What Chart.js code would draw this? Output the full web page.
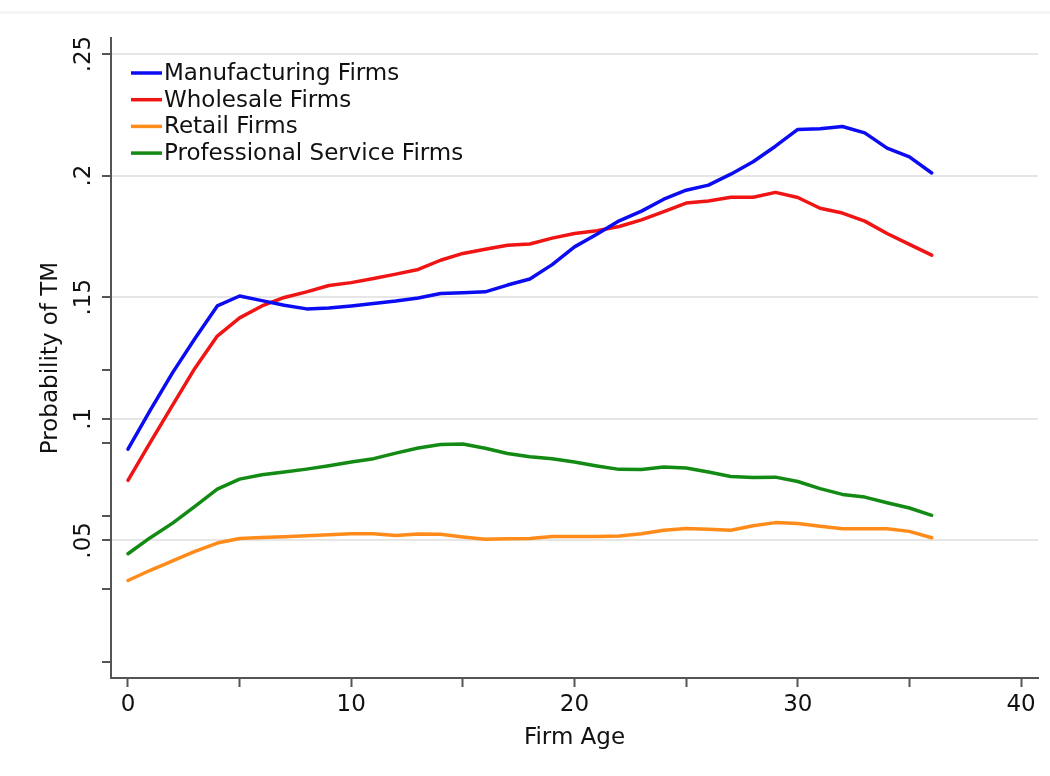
<!DOCTYPE html>
<html>
<head>
<meta charset="utf-8">
<title>Probability of TM by Firm Age</title>
<script src="https://cdn.jsdelivr.net/npm/chart.js@4.4.1/dist/chart.umd.min.js"></script>
<style>
  body { margin: 0; background: #fff; }
  #wrap { position: relative; width: 1050px; height: 776px; }
  #topline { position: absolute; left: 0; top: 11px; width: 1050px; height: 3px; background: #f5f5f5; }
  canvas { position: absolute; left: 0; top: 0; }
</style>
</head>
<body>
<div id="wrap">
  <div id="topline"></div>
  <canvas id="myChart" width="1050" height="776"></canvas>
</div>
<script>
// firm age (years)
const ages = [0, 1, 2, 3, 4, 5, 6, 7, 8, 9, 10, 11, 12, 13, 14, 15, 16, 17, 18,
  19, 20, 21, 22, 23, 24, 25, 26, 27, 28, 29, 30, 31, 32, 33, 34, 35, 36];

const manufacturing = [0.0875, 0.1036, 0.119, 0.133, 0.1464, 0.1505, 0.1486, 0.1467, 0.1452, 0.1456,
  0.1464, 0.1474, 0.1484, 0.1497, 0.1515, 0.1518, 0.1522, 0.155, 0.1575, 0.1634,
  0.1707, 0.1759, 0.1814, 0.1854, 0.1903, 0.194, 0.1961, 0.2006, 0.2057, 0.2121,
  0.219, 0.2193, 0.2202, 0.2176, 0.2113, 0.2077, 0.2011];

const wholesale = [0.0747, 0.0903, 0.1056, 0.1208, 0.134, 0.1415, 0.1464, 0.1499, 0.1522, 0.1548,
  0.156, 0.1577, 0.1595, 0.1614, 0.1652, 0.168, 0.1697, 0.1714, 0.1719, 0.1743,
  0.1762, 0.1773, 0.1791, 0.1818, 0.1852, 0.1887, 0.1896, 0.1911, 0.1911, 0.1931,
  0.191, 0.1866, 0.1846, 0.1813, 0.1762, 0.1717, 0.1673];

const retail = [0.0335, 0.0377, 0.0416, 0.0455, 0.0489, 0.0508, 0.0512, 0.0515, 0.0519, 0.0523,
  0.0527, 0.0527, 0.052, 0.0526, 0.0525, 0.0514, 0.0505, 0.0507, 0.0508, 0.0516,
  0.0516, 0.0516, 0.0518, 0.0527, 0.0542, 0.0549, 0.0546, 0.0542, 0.056, 0.0573,
  0.0569, 0.0558, 0.0548, 0.0548, 0.0548, 0.0537, 0.0511];

const professional = [0.0445, 0.0511, 0.0571, 0.064, 0.0711, 0.0752, 0.077, 0.0781, 0.0793, 0.0807,
  0.0822, 0.0836, 0.0859, 0.088, 0.0894, 0.0896, 0.0879, 0.0857, 0.0844, 0.0836,
  0.0822, 0.0806, 0.0792, 0.0791, 0.0802, 0.0798, 0.0781, 0.0763, 0.0759, 0.076,
  0.0742, 0.0713, 0.0689, 0.0678, 0.0655, 0.0633, 0.0603];

// axis ticks (only some of them get a label)
const xTickValues = [0, 5, 10, 15, 20, 25, 30, 35, 40];
const xTickLabels = [0, 10, 20, 30, 40];
const yTickValues = [0, 0.03, 0.05, 0.06, 0.09, 0.1, 0.12, 0.15, 0.2, 0.25];
const yTickLabels = [0.05, 0.1, 0.15, 0.2, 0.25];

const FONT = "'DejaVu Sans', sans-serif";
const FSIZE = 23;
const AXIS = "#555";

function toPoints(vals) {
  return ages.map((a, i) => ({ x: a, y: vals[i] }));
}

// legend drawn inside the plot, stata style
const insideLegend = {
  id: "insideLegend",
  afterDraw(chart) {
    const { ctx, chartArea } = chart;
    ctx.save();
    ctx.font = FSIZE + "px " + FONT;
    ctx.textBaseline = "middle";
    chart.data.datasets.forEach((ds, i) => {
      const x = chartArea.left + 20;
      const y = chartArea.top + 35 + i * 26.7;
      ctx.strokeStyle = ds.borderColor;
      ctx.lineWidth = 3.5;
      ctx.beginPath();
      ctx.moveTo(x, y);
      ctx.lineTo(x + 31, y);
      ctx.stroke();
      ctx.fillStyle = "#111";
      ctx.fillText(ds.label, x + 33, y + 1);
    });
    ctx.restore();
  },
};

const ctx = document.getElementById("myChart");

new Chart(ctx, {
  type: "line",
  data: {
    datasets: [
      { label: "Manufacturing Firms", data: toPoints(manufacturing), borderColor: "#0c0cf2" },
      { label: "Wholesale Firms", data: toPoints(wholesale), borderColor: "#f01414" },
      { label: "Retail Firms", data: toPoints(retail), borderColor: "#ff8c1a" },
      { label: "Professional Service Firms", data: toPoints(professional), borderColor: "#138a13" },
    ],
  },
  options: {
    responsive: false,
    animation: false,
    devicePixelRatio: 1,
    layout: { padding: { top: 38, right: 12, left: 0, bottom: 0 } },
    elements: {
      point: { radius: 0 },
      line: { borderWidth: 3.5, tension: 0, fill: false, borderJoinStyle: "round", borderCapStyle: "round" },
    },
    plugins: {
      legend: { display: false },
      tooltip: { enabled: false },
    },
    scales: {
      x: {
        type: "linear",
        min: -0.76,
        max: 40.76,
        afterBuildTicks: (scale) => {
          scale.ticks = xTickValues.map((v) => ({ value: v }));
        },
        afterFit: (scale) => {
          scale.height = 98;
        },
        ticks: {
          autoSkip: false,
          maxRotation: 0,
          padding: 4,
          color: "#111",
          font: { family: FONT, size: FSIZE },
          callback: (v) => (xTickLabels.includes(v) ? String(v) : ""),
        },
        grid: {
          color: "transparent",
          tickColor: AXIS,
          tickLength: 9,
          tickWidth: 2,
        },
        border: { color: AXIS, width: 2 },
        title: {
          display: true,
          text: "Firm Age",
          color: "#111",
          font: { family: FONT, size: FSIZE },
          padding: { top: 0, bottom: 24 },
        },
      },
      y: {
        type: "linear",
        min: -0.0066,
        max: 0.2566,
        afterBuildTicks: (scale) => {
          scale.ticks = yTickValues.map((v) => ({ value: v }));
        },
        afterFit: (scale) => {
          scale.width = 111;
        },
        ticks: {
          autoSkip: false,
          minRotation: 90,
          maxRotation: 90,
          crossAlign: "center",
          padding: 0,
          color: "#111",
          font: { family: FONT, size: FSIZE },
          callback: (v) => (yTickLabels.includes(v) ? String(v).replace(/^0/, "") : ""),
        },
        grid: {
          color: (c) => (c.tick && yTickLabels.includes(c.tick.value) ? "#e6e6e6" : "transparent"),
          lineWidth: 2,
          tickColor: AXIS,
          tickLength: 9,
          tickWidth: 2,
        },
        border: { color: AXIS, width: 2 },
        title: {
          display: true,
          text: "Probability of TM",
          color: "#111",
          font: { family: FONT, size: FSIZE },
          padding: { top: 37, bottom: 0 },
        },
      },
    },
  },
  plugins: [insideLegend],
});
</script>
</body>
</html>
